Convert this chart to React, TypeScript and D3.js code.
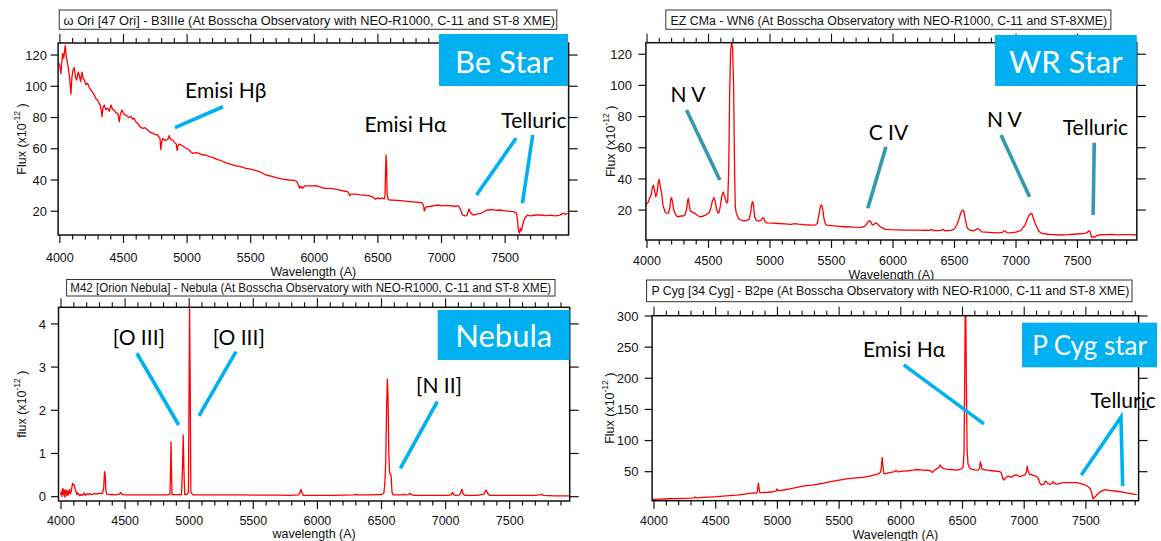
import React from 'react';
import * as d3 from 'd3';

type Pt = [number, number];

// ---------- tick labels ----------
const xTickLabels = [4000, 4500, 5000, 5500, 6000, 6500, 7000, 7500];
const beStarTicksY = [20, 40, 60, 80, 100, 120];
const wrStarTicksY = [20, 40, 60, 80, 100, 120];
const nebulaTicksY = [0, 1, 2, 3, 4];
const pCygTicksY = [50, 100, 150, 200, 250, 300];

// ---------- titles ----------
const titles = [
  'ω Ori [47 Ori] - B3IIIe (At Bosscha Observatory with NEO-R1000, C-11 and ST-8 XME)',
  'EZ CMa - WN6 (At Bosscha Observatory with NEO-R1000, C-11 and ST-8XME)',
  'M42 [Orion Nebula] - Nebula (At Bosscha Observatory with NEO-R1000, C-11 and ST-8 XME)',
  'P Cyg [34 Cyg] - B2pe (At Bosscha Observatory with NEO-R1000, C-11 and ST-8 XME)',
];
const boxLabels = ['Be Star', 'WR Star', 'Nebula', 'P Cyg star'];

// ---------- spectra (wavelength A, flux x1e-12) ----------
const beStarSpectrum: Pt[] = [
  [3990,115],[4000,113],[4008,108],[4016,116],[4022,121],[4030,118],[4042,126],[4050,119],[4058,116],[4069,110],
  [4078,104],[4087,95],[4095,106],[4102,110],[4113,112],[4122,106],[4132,104],[4143,109],[4153,107],[4163,103],
  [4174,109],[4183,105],[4192,104],[4205,101],[4218,102],[4232,99],[4245,97.5],[4258,96],[4270,94.5],[4284,92],
  [4297,91],[4308,89],[4318,88],[4326,84],[4331,80.5],[4338,86],[4349,88],[4362,85],[4376,86],[4389,84],
  [4402,88],[4415,85],[4428,84.8],[4441,83],[4454,82.7],[4461,80],[4467,77.3],[4474,82],[4488,84.8],[4504,82],
  [4520,81.6],[4540,80],[4559,80.5],[4572,79],[4585,79.5],[4600,77],[4612,76.3],[4630,74],[4651,73],[4670,73.5],
  [4690,72],[4710,70.5],[4730,70],[4750,69],[4769,68.8],[4780,67.5],[4787,66.7],[4793,59.5],[4800,64],[4808,66.7],
  [4820,65.5],[4834,65.6],[4848,66],[4860,68.5],[4870,66],[4887,65.6],[4900,64],[4915,63],[4922,59],[4928,62],
  [4940,63],[4965,61.8],[4990,60.5],[5017,59.2],[5030,58],[5044,57.1],[5070,57.5],[5096,57],[5120,56],[5148,56],
  [5175,55],[5201,54.5],[5227,53.5],[5253,52.8],[5280,52],[5306,51],[5345,50],[5384,49],[5420,48.5],[5463,47.5],
  [5500,47],[5542,46],[5580,45],[5620,43.2],[5660,42.5],[5699,41.5],[5750,40.5],[5803,40],[5840,39.8],[5860,39.2],
  [5875,37],[5885,34.7],[5895,36],[5909,34.7],[5925,36.2],[5950,36.2],[5985,36.2],[6013,36.4],[6050,35.5],[6078,34.7],
  [6110,34.6],[6147,34.5],[6200,33.5],[6240,32.8],[6263,32.5],[6270,31.5],[6278,30],[6290,31],[6321,31],[6360,30.5],
  [6400,30.2],[6438,29.8],[6460,29],[6481,27.7],[6500,28.6],[6515,27.9],[6530,28.5],[6550,28],[6556,30],[6560,45],
  [6564,56],[6568,50],[6573,31],[6580,27.5],[6600,27.2],[6650,27],[6700,26.6],[6750,26.2],[6800,25.8],[6845,25.5],
  [6858,24],[6865,20.2],[6872,22],[6888,23],[6920,23.2],[6950,23.8],[6976,24],[7000,23.4],[7050,23.8],[7100,23.2],
  [7135,23.4],[7150,21],[7165,17.6],[7185,17],[7200,17.2],[7210,20],[7216,21.5],[7222,20],[7235,18.5],[7251,17.6],
  [7280,18.3],[7310,18.7],[7330,19.5],[7350,20.5],[7367,20.8],[7400,21],[7430,20.6],[7455,20.8],[7500,20.3],[7540,19.9],
  [7571,19.7],[7590,18.5],[7598,14],[7604,8],[7612,6],[7620,9],[7628,7.5],[7640,12],[7655,15.5],[7675,17.5],
  [7700,17],[7740,17.6],[7775,17.6],[7820,17.2],[7860,17.5],[7892,17],[7930,17.5],[7960,18.8],[7970,18],[7990,18.7],
];

const wrStarSpectrum: Pt[] = [
  [3992,23],[4000,24.5],[4010,25],[4020,27.5],[4035,30],[4045,35],[4052,36],[4060,33],[4071,28.5],[4080,30],
  [4090,37],[4098,39.7],[4106,36],[4119,30.7],[4130,23],[4146,18.9],[4160,18],[4173,17.9],[4185,21],[4193,27],
  [4200,28],[4208,25],[4215,21],[4222,19],[4240,16.2],[4255,15.7],[4275,16.3],[4295,16.2],[4310,17],[4322,21],
  [4330,26],[4336,27.5],[4344,23],[4352,19.5],[4363,19],[4380,18],[4390,17.9],[4410,16.5],[4431,15.7],[4460,16.2],
  [4485,17.2],[4505,18.5],[4518,21],[4532,26],[4545,28],[4556,25],[4567,20],[4578,18],[4585,18.3],[4595,22],
  [4608,29],[4620,31.7],[4630,29],[4640,26.4],[4648,24.5],[4656,25.3],[4664,45],[4672,95],[4680,122],[4688,127.5],
  [4696,124],[4704,100],[4712,45],[4718,22],[4726,18],[4742,14.7],[4760,13.8],[4783,13.1],[4810,13.3],[4830,14],
  [4842,18],[4852,24],[4859,25.5],[4866,23],[4874,16],[4886,13.6],[4905,13],[4925,13.3],[4940,15],[4950,14.8],
  [4960,12.5],[4973,11.8],[5020,11.6],[5067,11.4],[5120,11.2],[5170,10.8],[5203,11.3],[5230,11],[5280,10.6],[5339,10.4],
  [5370,10.5],[5385,11.5],[5398,17],[5410,22.5],[5420,23.3],[5428,21],[5438,15],[5450,11.2],[5461,10.4],[5500,10],
  [5560,9.6],[5610,9.3],[5680,9],[5745,8.9],[5770,9.5],[5786,11],[5798,12.8],[5808,13.1],[5818,12.6],[5828,11],
  [5835,10.4],[5848,11],[5858,11.8],[5867,11.5],[5880,10.6],[5895,9.5],[5908,8.9],[5935,7.6],[5980,7.4],[6050,7.3],
  [6100,7.2],[6152,7.2],[6200,7.2],[6230,7],[6260,7.2],[6290,7],[6314,7.5],[6330,6.9],[6360,6.8],[6390,7],
  [6405,7.6],[6423,6.7],[6470,7],[6500,8],[6518,10.4],[6535,14],[6550,18],[6563,20],[6575,19.5],[6588,14],
  [6600,9.5],[6607,8.2],[6630,7],[6653,6.7],[6675,7.5],[6688,8.2],[6700,7.6],[6721,6],[6780,5.7],[6856,5.4],
  [6890,5.7],[6900,6.6],[6912,6.6],[6925,5.5],[6951,5.4],[7000,5.8],[7040,7],[7060,9],[7073,10.4],[7090,14],
  [7105,16.5],[7120,17.8],[7130,17.5],[7145,14],[7160,10.5],[7168,9.3],[7185,6.5],[7209,5],[7260,4.5],[7300,4.3],
  [7371,4],[7420,4.2],[7470,4.5],[7520,4.8],[7560,5],[7575,5.3],[7590,6.6],[7600,6.5],[7608,4.5],[7615,2.5],
  [7625,3],[7640,2.6],[7655,3.5],[7670,4],[7720,4.3],[7778,4.4],[7830,4.1],[7880,4.3],[7930,4.2],[7982,4],
];

const nebulaSpectrum: Pt[] = [
  [3995,0.05],[4004,0.12],[4008,0],[4013,0.19],[4018,0.05],[4022,0.17],[4029,-0.01],[4034,0.14],[4039,0.16],[4045,0.02],
  [4052,0.13],[4058,0.04],[4065,0.17],[4072,0.07],[4078,0.1],[4085,0.22],[4091,0.31],[4097,0.28],[4104,0.27],[4110,0.18],
  [4117,0.12],[4125,0.05],[4131,0.09],[4138,0.06],[4146,0.02],[4156,0.05],[4165,0.03],[4175,0.06],[4182,0.09],[4188,0.03],
  [4195,0.04],[4205,0.07],[4215,0.05],[4221,0.07],[4240,0.05],[4260,0.07],[4280,0.06],[4299,0.08],[4315,0.07],[4325,0.08],
  [4333,0.2],[4338,0.5],[4341,0.58],[4345,0.5],[4350,0.15],[4356,0.06],[4390,0.05],[4429,0.04],[4455,0.06],[4465,0.1],
  [4472,0.06],[4494,0.04],[4560,0.04],[4650,0.04],[4750,0.04],[4830,0.04],[4850,0.06],[4854,0.6],[4858,1.27],[4862,0.6],
  [4866,0.05],[4900,0.04],[4940,0.05],[4948,0.7],[4953,1.43],[4958,0.7],[4965,0.05],[4980,0.05],[4994,0.1],[4999,2.5],
  [5003,4.35],[5008,2.5],[5013,0.1],[5030,0.04],[5150,0.04],[5260,0.04],[5400,0.04],[5550,0.035],[5700,0.035],[5780,0.03],
  [5855,0.04],[5866,0.12],[5872,0.17],[5878,0.1],[5890,0.03],[5960,0.03],[6100,0.03],[6200,0.035],[6290,0.04],[6300,0.06],
  [6310,0.04],[6420,0.04],[6500,0.05],[6518,0.08],[6526,0.3],[6533,0.8],[6540,2.1],[6546,2.72],[6551,2.3],[6557,1.0],
  [6563,0.55],[6570,0.54],[6576,0.45],[6582,0.1],[6592,0.04],[6640,0.04],[6670,0.04],[6678,0.06],[6688,0.04],[6710,0.05],
  [6722,0.08],[6733,0.05],[6756,0.03],[6900,0.03],[7020,0.03],[7045,0.05],[7055,0.1],[7064,0.04],[7081,0.03],[7110,0.04],
  [7122,0.14],[7128,0.17],[7136,0.06],[7154,0.03],[7250,0.03],[7300,0.06],[7310,0.13],[7318,0.15],[7328,0.08],[7342,0.03],
  [7500,0.03],[7700,0.03],[7745,0.05],[7752,0.06],[7760,0.03],[7850,0.02],[7939,0.02],[7965,0.02],
];

const pCygSpectrum: Pt[] = [
  [3990,5.5],[4050,6],[4120,6.5],[4180,6.8],[4238,7.2],[4300,7.6],[4325,8],[4332,9.5],[4340,8],[4400,8.6],
  [4450,9.2],[4508,9.8],[4560,10.6],[4610,11.5],[4670,12.5],[4720,13.7],[4778,15],[4810,15.8],[4835,16.2],[4840,22],
  [4846,32],[4852,22],[4858,16.5],[4870,16.5],[4920,17],[4967,17.8],[4990,19],[4998,22.5],[5006,19.5],[5023,19.5],
  [5060,21],[5100,22.5],[5140,24],[5183,25.9],[5230,27.5],[5280,28.5],[5318,29.6],[5360,31],[5400,33],[5453,35],
  [5500,36.5],[5550,38],[5588,39.2],[5640,40],[5670,40.5],[5696,40.8],[5720,42],[5750,43],[5780,44.5],[5810,46],
  [5832,48.3],[5842,55],[5849,73],[5855,60],[5862,47],[5872,47],[5910,48.5],[5950,50],[5960,52],[5967,51.5],
  [5975,49.8],[6000,50.5],[6021,50.8],[6060,51.5],[6100,52.5],[6129,53.5],[6160,53],[6190,52],[6210,52.5],[6240,51.5],
  [6252,49.5],[6258,49],[6270,52],[6290,54.5],[6310,57],[6318,60.8],[6328,58],[6345,55],[6370,54],[6400,53.5],
  [6430,53],[6453,52.5],[6475,53.5],[6494,55],[6505,58],[6512,80],[6518,200],[6522,300],[6527,300],[6531,200],
  [6537,85],[6545,62],[6555,57],[6570,54],[6600,53],[6628,52.5],[6638,55],[6644,66],[6650,62],[6658,54],
  [6670,53.5],[6700,52.5],[6740,51.5],[6780,50.5],[6804,50],[6817,47],[6826,39],[6836,36.7],[6850,40],[6869,43],
  [6880,42],[6896,41],[6915,44],[6939,45],[6955,43],[6966,42],[6985,43.5],[7007,45],[7018,50],[7024,59],
  [7031,52],[7040,46],[7060,45],[7085,43.5],[7101,42],[7115,39],[7125,32],[7142,28.6],[7160,30],[7168,34],
  [7177,35],[7190,31],[7209,29.6],[7225,31],[7233,34],[7242,32],[7260,30],[7277,30],[7300,32],[7345,32.3],
  [7390,32.5],[7426,32.3],[7460,31],[7480,29.6],[7510,27],[7534,23],[7545,18],[7553,10],[7558,6.5],[7566,8.6],
  [7575,9.6],[7590,13],[7615,17.5],[7640,20],[7655,21],[7690,20],[7750,18.6],[7800,17],[7850,15.2],[7912,13],
];

// ---------- annotations (data coordinates) ----------
const beStarNotes = [
  { text: 'Emisi Hβ', at: [4984, 92.5] as Pt },
  { text: 'Emisi Hα', at: [6394, 70.9] as Pt },
  { text: 'Telluric', at: [7470, 73.1] as Pt },
];
const beStarPointers: Pt[][] = [
  [[4905, 73.5], [5282, 86.9]],
  [[7275, 30.4], [7586, 66.7]],
  [[7636, 25.1], [7717, 68.8]],
];
const wrStarNotes = [
  { text: 'N V', at: [4192, 89.6] as Pt },
  { text: 'C IV', at: [5802, 65] as Pt },
  { text: 'N V', at: [6764, 73.5] as Pt },
  { text: 'Telluric', at: [7380, 68.2] as Pt },
];
const wrStarPointers: Pt[][] = [
  [[4321, 84.2], [4592, 39.3]],
  [[5943, 60.7], [5795, 21.1]],
  [[6878, 68.2], [7110, 28.5]],
  [[7636, 63.2], [7627, 16.8]],
];
const nebulaNotes = [
  { text: '[O III]', at: [4404, 3.51] as Pt },
  { text: '[O III]', at: [5183, 3.51] as Pt },
  { text: '[N II]', at: [6769, 2.4] as Pt },
];
const nebulaPointers: Pt[][] = [
  [[4592, 3.32], [4918, 1.66]],
  [[5365, 3.36], [5076, 1.87]],
  [[6935, 2.2], [6647, 0.657]],
];
const pCygNotes = [
  { text: 'Emisi Hα', at: [5694, 234.9] as Pt },
  { text: 'Telluric', at: [7537, 152.4] as Pt },
];
const pCygPointers: Pt[][] = [
  [[6024, 221.6], [6674, 126.7]],
  [[7463, 44.7], [7784, 137.5], [7798, 27]],
];

// ---------- layout ----------
const AXIS_FONT = "'Liberation Sans', Arial, Helvetica, sans-serif";
const NOTE_FONT = "Lato, 'Open Sans', sans-serif";
const CYAN = '#00B0F0';
const TEAL = '#3399AF';

interface PanelCfg {
  id: string;
  l: number; r: number; t: number; b: number;
  xDomain: [number, number]; yDomain: [number, number];
  yTicks: number[]; data: Pt[];
  title: string; tBox: [number, number, number, number]; tText: [number, number, number];
  xLabel: string; yLabel: string; tickBase: number; xLabelBase: number; yLabelX: number; yLabelRight: number;
  notes: { text: string; at: Pt }[]; pointers: Pt[][]; pointerColor: string;
  box: [number, number, number, number]; boxText: string; boxTextX: number; boxTextBase: number; boxFont: number;
}

const panels: PanelCfg[] = [
  {
    id: 'be', l: 58.1, r: 568.6, t: 43, b: 235, xDomain: [3986, 7999], yDomain: [4.8, 127.7],
    yTicks: beStarTicksY, data: beStarSpectrum, title: titles[0],
    tBox: [59.2, 10, 556.8, 29.3], tText: [63.6, 555, 24.5],
    xLabel: 'Wavelength (A)', yLabel: 'Flux (x10', tickBase: 262, xLabelBase: 275.5, yLabelX: 25.5, yLabelRight: 47,
    notes: beStarNotes, pointers: beStarPointers, pointerColor: CYAN,
    box: [439, 34, 568, 86], boxText: boxLabels[0], boxTextX: 504, boxTextBase: 73, boxFont: 31,
  },
  {
    id: 'wr', l: 645.9, r: 1136.8, t: 42.7, b: 240, xDomain: [3991, 7982], yDomain: [0.8, 127.4],
    yTicks: wrStarTicksY, data: wrStarSpectrum, title: titles[1],
    tBox: [665.8, 10, 1110.9, 29.3], tText: [670.6, 1107.2, 24.5],
    xLabel: 'Wavelength (A)', yLabel: 'Flux (x10', tickBase: 264.5, xLabelBase: 278.5, yLabelX: 614.5, yLabelRight: 632,
    notes: wrStarNotes, pointers: wrStarPointers, pointerColor: TEAL,
    box: [995, 35, 1136.8, 86], boxText: boxLabels[1], boxTextX: 1065.8, boxTextBase: 73, boxFont: 31,
  },
  {
    id: 'neb', l: 58.5, r: 569.7, t: 307.3, b: 501, xDomain: [3980.5, 7968], yDomain: [-0.1, 4.384],
    yTicks: nebulaTicksY, data: nebulaSpectrum, title: titles[2],
    tBox: [66.6, 279.5, 555, 296], tText: [70.3, 551.2, 291.5],
    xLabel: 'wavelength (A)', yLabel: 'flux (x10', tickBase: 524.5, xLabelBase: 538, yLabelX: 25.5, yLabelRight: 46,
    notes: nebulaNotes, pointers: nebulaPointers, pointerColor: CYAN,
    box: [437.7, 310, 569.7, 360], boxText: boxLabels[2], boxTextX: 503.7, boxTextBase: 347, boxFont: 31,
  },
  {
    id: 'pcyg', l: 652.1, r: 1138.6, t: 315.7, b: 500.7, xDomain: [3984.6, 7927], yDomain: [3.4, 300.5],
    yTicks: pCygTicksY, data: pCygSpectrum, title: titles[3],
    tBox: [646.6, 280, 1132, 301.7], tText: [651.4, 1129.4, 295],
    xLabel: 'Wavelength (A)', yLabel: 'Flux (x10', tickBase: 525, xLabelBase: 538.5, yLabelX: 614, yLabelRight: 638.5,
    notes: pCygNotes, pointers: pCygPointers, pointerColor: CYAN,
    box: [1022, 322.7, 1157, 367.3], boxText: boxLabels[3], boxTextX: 1089.5, boxTextBase: 355, boxFont: 26,
  },
];

function Panel({ c }: { c: PanelCfg }) {
  const x = d3.scaleLinear().domain(c.xDomain).range([c.l, c.r]);
  const y = d3.scaleLinear().domain(c.yDomain).range([c.b, c.t]);
  const line = d3.line<Pt>().x(d => x(d[0])).y(d => y(d[1]));
  const minor = d3.range(4000, c.xDomain[1] + 0.5, 100);
  const cy = (c.t + c.b) / 2;
  return (
    <g>
      <defs>
        <clipPath id={`clip-${c.id}`}>
          <rect x={c.l} y={c.t} width={c.r - c.l} height={c.b - c.t} />
        </clipPath>
      </defs>
      {/* spectrum */}
      <path d={line(c.data) || ''} fill="none" stroke="#FF0000" strokeWidth={1.3}
        strokeLinejoin="round" clipPath={`url(#clip-${c.id})`} />
      {/* frame */}
      <rect x={c.l} y={c.t} width={c.r - c.l} height={c.b - c.t} fill="none" stroke="#111" strokeWidth={1.5} />
      {/* x ticks bottom and top */}
      {minor.map(v => {
        const major = v % 500 === 0;
        const px = x(v);
        return (
          <g key={v}>
            <line x1={px} x2={px} y1={c.b} y2={c.b + (major ? 8 : 4.5)} stroke="#111" strokeWidth={1.2} />
            <line x1={px} x2={px} y1={c.t} y2={c.t - (major ? 9 : 5)} stroke="#111" strokeWidth={1.1} />
          </g>
        );
      })}
      {xTickLabels.map(v => (
        <text key={v} x={x(v)} y={c.tickBase} textAnchor="middle" fontFamily={AXIS_FONT} fontSize={12.5} fill="#111">{v}</text>
      ))}
      <text x={(c.l + c.r) / 2} y={c.xLabelBase} textAnchor="middle" fontFamily={AXIS_FONT} fontSize={12.5} fill="#111">{c.xLabel}</text>
      {/* y ticks */}
      {c.yTicks.map(v => (
        <g key={v}>
          <line x1={c.l - 7.5} x2={c.l} y1={y(v)} y2={y(v)} stroke="#111" strokeWidth={1.2} />
          <line x1={c.r} x2={c.r + 9} y1={y(v)} y2={y(v)} stroke="#111" strokeWidth={1.2} />
          <text x={c.yLabelRight} y={y(v)} dy="0.36em" textAnchor="end" fontFamily={AXIS_FONT} fontSize={13} fill="#111">{v}</text>
        </g>
      ))}
      <text transform={`translate(${c.yLabelX},${cy}) rotate(-90)`} textAnchor="middle" fontFamily={AXIS_FONT} fontSize={12.5} fill="#111">
        {c.yLabel}
        <tspan fontSize={8.5} dy={-6}>-12</tspan>
        <tspan dy={6}>{'  )'}</tspan>
      </text>
      {/* title box */}
      <rect x={c.tBox[0]} y={c.tBox[1]} width={c.tBox[2] - c.tBox[0]} height={c.tBox[3] - c.tBox[1]} fill="#fff" stroke="#333" strokeWidth={1} />
      <text x={c.tText[0]} y={c.tText[2]} textLength={c.tText[1] - c.tText[0]} lengthAdjust="spacingAndGlyphs"
        fontFamily={AXIS_FONT} fontSize={12} fill="#111">{c.title}</text>
      {/* pointers */}
      {c.pointers.map((p, i) => (
        <path key={i} d={line(p) || ''} fill="none" stroke={c.pointerColor} strokeWidth={3.6} strokeLinejoin="miter" />
      ))}
      {c.notes.map((n, i) => (
        <text key={i} x={x(n.at[0])} y={y(n.at[1])} fontFamily={NOTE_FONT} fontSize={21} fill="#000">{n.text}</text>
      ))}
      {/* category box */}
      <rect x={c.box[0]} y={c.box[1]} width={c.box[2] - c.box[0]} height={c.box[3] - c.box[1]} fill={CYAN} />
      <text x={c.boxTextX} y={c.boxTextBase} textAnchor="middle" fontFamily={NOTE_FONT} fontSize={c.boxFont} fill="#fff">{c.boxText}</text>
    </g>
  );
}

export default function App() {
  return (
    <svg width={1161} height={541} viewBox="0 0 1161 541"
      style={{ position: 'absolute', left: 0, top: 0, background: '#fff', display: 'block' }}>
      <rect x={0} y={0} width={1161} height={541} fill="#fff" />
      {panels.map(p => <Panel key={p.id} c={p} />)}
    </svg>
  );
}
